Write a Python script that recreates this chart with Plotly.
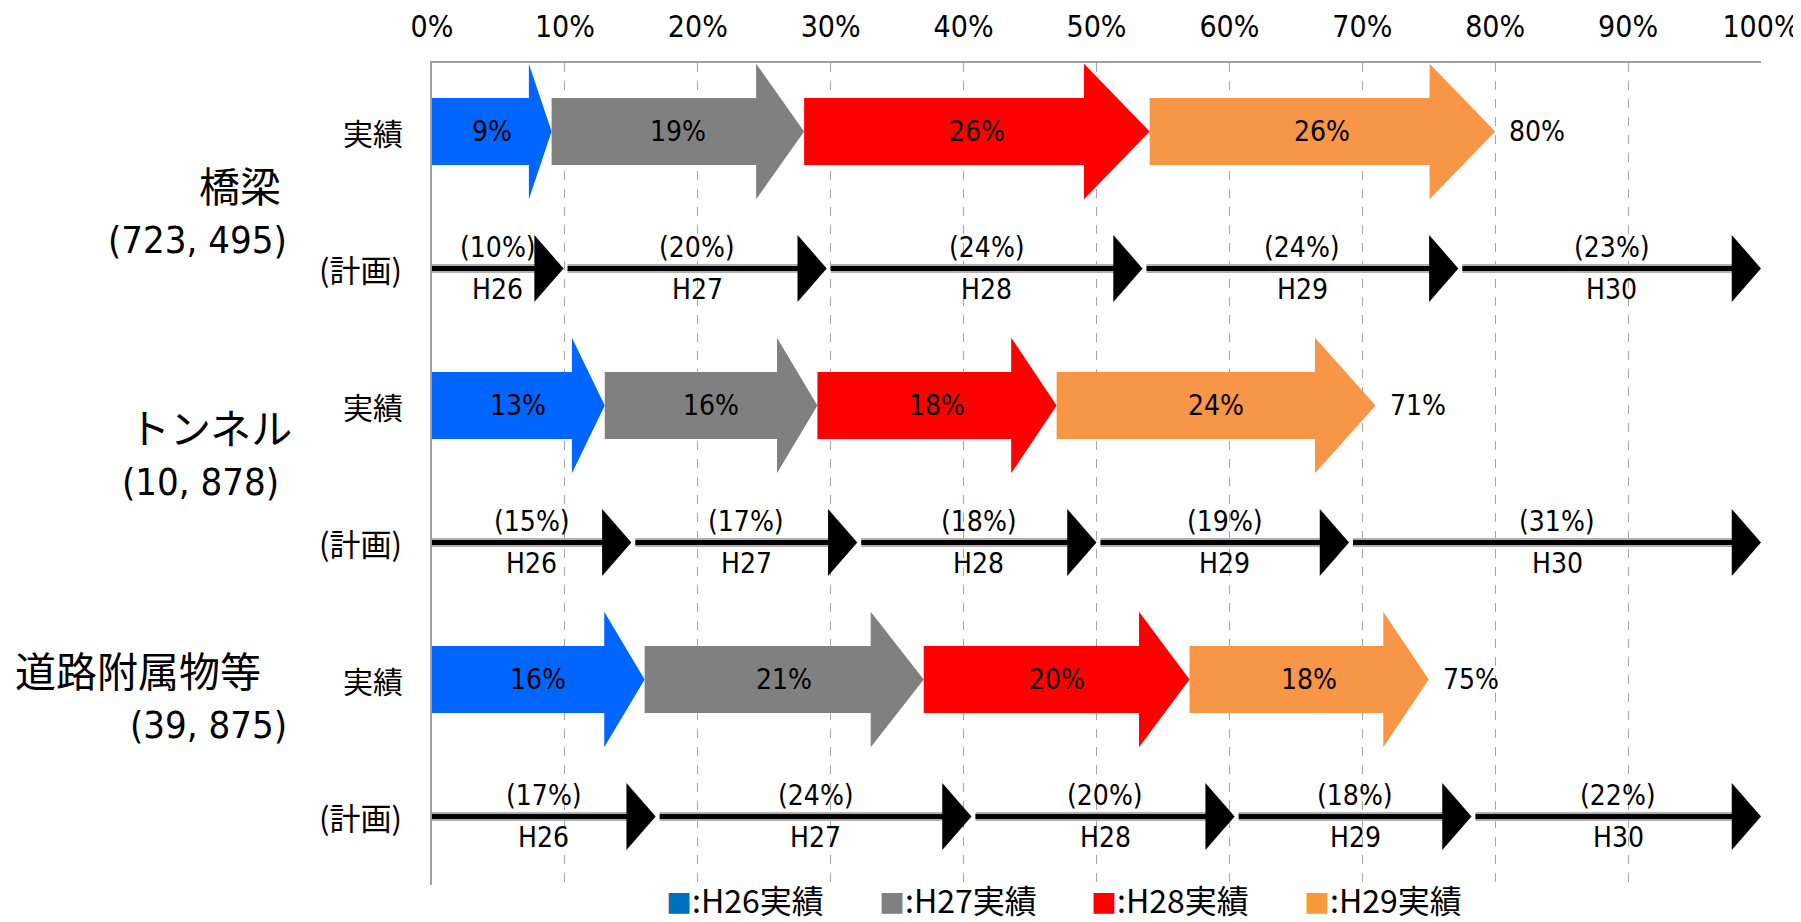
import plotly.graph_objects as go

# ---------------- data ----------------
groups = ["橋梁", "トンネル", "道路附属物等"]
group_counts = ["(723, 495)", "(10, 878)", "(39, 875)"]
row_kinds = ["実績", "(計画)"]
years = ["H26", "H27", "H28", "H29", "H30"]
actual_names = ["H26実績", "H27実績", "H28実績", "H29実績"]

actual_bridge = [9, 19, 26, 26]
actual_tunnel = [13, 16, 18, 24]
actual_road = [16, 21, 20, 18]

plan_bridge = [10, 20, 24, 24, 23]
plan_tunnel = [15, 17, 18, 19, 31]
plan_road = [17, 24, 20, 18, 22]

x_ticks = [0, 10, 20, 30, 40, 50, 60, 70, 80, 90, 100]

# ---------------- style ----------------
actual_colors = ["#0066FF", "#808080", "#FF0000", "#F79646"]
legend_colors = ["#0070C0", "#808080", "#FF0000", "#F99A3A"]
NUM_FONT = "DejaVu Sans Condensed, Liberation Sans Narrow, Noto Sans CJK JP, sans-serif"
JP_FONT = "Noto Sans CJK JP, sans-serif"

W, H = 1801, 922
L, R, T, B = 424, 48, 55, 45
PW, PH = W - L - R, H - T - B


def paper_x(px):
    return (px - L) / PW


def paper_y(py):
    return (H - B - py) / PH


actual_all = [actual_bridge, actual_tunnel, actual_road]
plan_all = [plan_bridge, plan_tunnel, plan_road]

fig = go.Figure()
fig.add_trace(go.Scatter(x=[0, 100], y=[0, 5], mode="markers",
                         marker=dict(opacity=0), hoverinfo="skip", showlegend=False))

shapes = []
annots = []

BODY = 0.245
HEAD = 0.495
HEAD_FRAC = 0.19
P_HEAD_LEN = 2.2
P_HEAD_H = 0.245
GAP = 0.3
NUM_SIZE = 28

for g in range(3):
    ya = 2 * g
    yp = 2 * g + 1
    cum = 0
    for i, v in enumerate(actual_all[g]):
        x0, x1 = cum, cum + v
        hl = HEAD_FRAC * (x1 - x0)
        path = (f"M {x0},{ya - BODY} L {x1 - hl},{ya - BODY} L {x1 - hl},{ya - HEAD} "
                f"L {x1},{ya} L {x1 - hl},{ya + HEAD} L {x1 - hl},{ya + BODY} "
                f"L {x0},{ya + BODY} Z")
        shapes.append(dict(type="path", path=path, xref="x", yref="y",
                           fillcolor=actual_colors[i], line=dict(width=0)))
        annots.append(dict(x=(x0 + x1) / 2, y=ya, xref="x", yref="y", text=f"{v}%",
                           showarrow=False, font=dict(family=NUM_FONT, size=NUM_SIZE, color="black")))
        cum = x1
    annots.append(dict(x=cum, y=ya, xref="x", yref="y", text=f"{cum}%", xanchor="left",
                       xshift=12, showarrow=False,
                       font=dict(family=NUM_FONT, size=NUM_SIZE, color="black")))
    total = sum(plan_all[g])
    c = 0
    prev_end = 0
    for i, v in enumerate(plan_all[g]):
        c += v
        tip = 100 * c / total
        start = prev_end + (GAP if i > 0 else 0)
        base = tip - P_HEAD_LEN
        shapes.append(dict(type="line", x0=start, x1=base + 0.2, y0=yp, y1=yp, xref="x", yref="y",
                           line=dict(color="#B0B0B0", width=9)))
        shapes.append(dict(type="line", x0=start, x1=base + 0.2, y0=yp, y1=yp, xref="x", yref="y",
                           line=dict(color="black", width=5)))
        shapes.append(dict(type="path", xref="x", yref="y",
                           path=f"M {base},{yp - P_HEAD_H} L {tip},{yp} L {base},{yp + P_HEAD_H} Z",
                           fillcolor="black", line=dict(width=0)))
        mid = (start + tip) / 2
        annots.append(dict(x=mid, y=yp, xref="x", yref="y", text=f"({v}%)", yshift=21,
                           showarrow=False, font=dict(family=NUM_FONT, size=NUM_SIZE, color="black")))
        annots.append(dict(x=mid, y=yp, xref="x", yref="y", text=years[i], yshift=-21,
                           showarrow=False, font=dict(family=NUM_FONT, size=NUM_SIZE, color="black")))
        prev_end = tip
    annots.append(dict(x=paper_x(397), y=ya, xref="paper", yref="y", text=row_kinds[0],
                       xanchor="right", yanchor="middle", showarrow=False,
                       font=dict(family=JP_FONT, size=30, color="black")))
    annots.append(dict(x=paper_x(396), y=yp, xref="paper", yref="y", text=row_kinds[1],
                       xanchor="right", yanchor="middle", showarrow=False,
                       font=dict(family=JP_FONT, size=31, color="black")))

# group labels (manual placement as in the reference)
name_y = [0.38, 2.15, 3.92]
name_right = [275, 286, 255]
count_right = [281, 273, 281]
for g in range(3):
    annots.append(dict(x=paper_x(name_right[g]), y=name_y[g], xref="paper", yref="y",
                       text=groups[g], xanchor="right", yanchor="middle", showarrow=False,
                       font=dict(family=JP_FONT, size=41, color="black")))
    annots.append(dict(x=paper_x(count_right[g]), y=name_y[g] + 0.41, xref="paper", yref="y",
                       text=group_counts[g], xanchor="right", yanchor="middle", showarrow=False,
                       font=dict(family=NUM_FONT, size=38, color="black")))

# legend
leg_x = [656, 869, 1081, 1294]
for i, nm in enumerate(actual_names):
    annots.append(dict(x=paper_x(leg_x[i]), y=paper_y(891), xref="paper", yref="paper",
                       xanchor="left", yanchor="middle", showarrow=False,
                       text=f"<span style='color:{legend_colors[i]};font-size:26px'>■</span>:{nm}",
                       font=dict(family=JP_FONT, size=32, color="black")))

fig.update_layout(
    width=W, height=H,
    margin=dict(l=L, r=R, t=T, b=B, autoexpand=False),
    paper_bgcolor="white", plot_bgcolor="white",
    shapes=shapes, annotations=annots,
    showlegend=False,
    xaxis=dict(side="top", range=[0, 100], tickvals=x_ticks, automargin=False,
               ticktext=[f"{t}%" for t in x_ticks], ticks="", ticklabelstandoff=12,
               ticklabeloverflow="allow",
               tickfont=dict(family=NUM_FONT, size=30, color="black"),
               showgrid=True, gridcolor="#A6A6A6", griddash="dash", gridwidth=1,
               showline=True, linecolor="#A0A0A0", linewidth=2, zeroline=False, fixedrange=True),
    yaxis=dict(range=[5.5, -0.5], showticklabels=False, ticks="", showgrid=False, automargin=False,
               showline=True, linecolor="#A0A0A0", linewidth=2, zeroline=False, fixedrange=True),
)

fig.write_html("out.html")
